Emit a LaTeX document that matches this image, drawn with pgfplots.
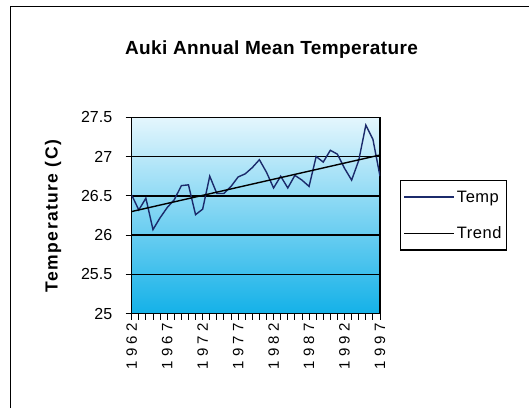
\documentclass[border=0pt]{standalone}
\usepackage{fontspec}
\setmainfont{Liberation Sans}
\newfontfamily\titlefont[LetterSpace=2]{Liberation Sans Bold}
\newfontfamily\labelfont[LetterSpace=8]{Liberation Sans Bold}
\newfontfamily\legendfont[LetterSpace=3]{Liberation Sans}
\newfontfamily\yearfont[LetterSpace=28]{Liberation Sans}
\usepackage{pgfplots}
\usepackage{pgfplotstable}
\pgfplotsset{compat=1.18}

\definecolor{templine}{HTML}{1B2A6B}
\definecolor{bgtop}{HTML}{E4F6FD}
\definecolor{bgmid}{HTML}{8ED6F3}
\definecolor{bgbot}{HTML}{14B1E8}

% annual mean temperature, Auki
\pgfplotstableread{
year temp
1962 26.51
1963 26.32
1964 26.47
1965 26.07
1966 26.22
1967 26.35
1968 26.45
1969 26.63
1970 26.64
1971 26.26
1972 26.33
1973 26.75
1974 26.53
1975 26.53
1976 26.62
1977 26.74
1978 26.78
1979 26.86
1980 26.96
1981 26.80
1982 26.60
1983 26.75
1984 26.60
1985 26.76
1986 26.70
1987 26.62
1988 27.00
1989 26.93
1990 27.08
1991 27.03
1992 26.85
1993 26.70
1994 26.95
1995 27.40
1996 27.22
1997 26.75
}\temptable

\begin{document}
\begin{tikzpicture}[x=1bp,y=1bp]
\useasboundingbox (0,0) rectangle (529,408);
\fill[white] (0,0) rectangle (529,408);
\draw[line width=1.5bp] (10.5,0) -- (10.5,401.5) -- (529,401.5);
\begin{axis}[
  at={(131.7bp,94.4bp)}, anchor=south west,
  scale only axis, width=248.3bp, height=196.3bp,
  xmin=1962, xmax=1997, ymin=25, ymax=27.5,
  axis background/.style={top color=bgtop, middle color=bgmid, bottom color=bgbot},
  axis line style={line width=1.4bp, black},
  ytick={25,25.5,...,27.5},
  ymajorgrids, grid style={line width=1.6bp, black},
  xtick={1962,1967,...,1997}, minor x tick num=4,
  xtick pos=left, ytick pos=left,
  tick align=outside, major tick length=6bp, minor tick length=6bp,
  every tick/.style={black, line width=0.9bp},
  /pgf/number format/assume math mode=true,
  /pgf/number format/1000 sep={},
  x tick label style={rotate=90, anchor=east, font=\yearfont\fontsize{15bp}{17bp}\selectfont},
  y tick label style={font=\fontsize{16bp}{18bp}\selectfont, xshift=-10bp},
  ylabel={Temperature (C)},
  ylabel style={at={(axis description cs:-0.317,0.497)}, anchor=center,
    font=\labelfont\fontsize{17.5bp}{20bp}\selectfont},
  title={Auki Annual Mean Temperature},
  title style={at={(axis description cs:0.563,1.312)}, anchor=center,
    font=\titlefont\fontsize{19bp}{22bp}\selectfont},
  legend style={at={(axis description cs:1.0805,0.68)}, anchor=north west,
    draw=black, line width=1.2bp, fill=white,
    font=\legendfont\fontsize{16.5bp}{19bp}\selectfont,
    row sep=19bp, inner xsep=3bp, inner ysep=8bp},
  legend cell align=left,
  legend image code/.code={\draw[#1] (0bp,0bp) -- (50bp,0bp);},
]
\addplot[templine, line width=1.4bp] table[x=year, y=temp] {\temptable};
\addlegendentry{Temp}
\addplot[black, line width=1.4bp] coordinates {(1962,26.30) (1997,27.02)};
\addlegendentry{Trend}
\end{axis}
\end{tikzpicture}
\end{document}
